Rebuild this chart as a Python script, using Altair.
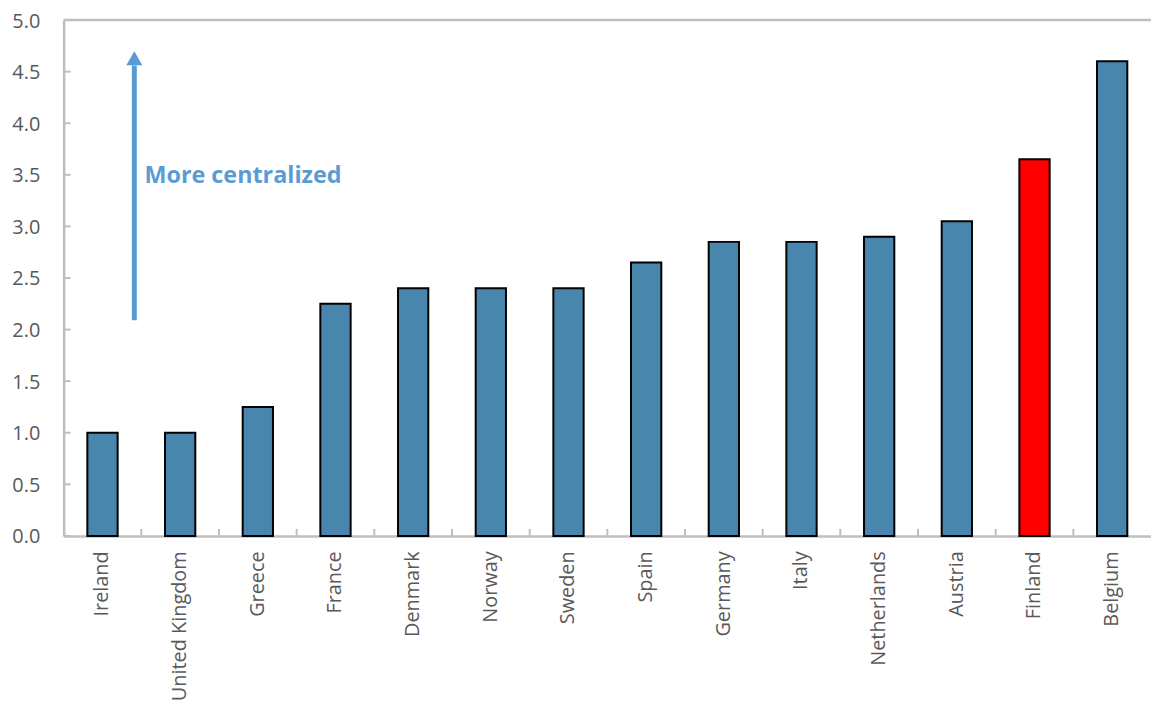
import altair as alt
import pandas as pd

countries = ["Ireland", "United Kingdom", "Greece", "France", "Denmark", "Norway",
             "Sweden", "Spain", "Germany", "Italy", "Netherlands", "Austria",
             "Finland", "Belgium"]
values = [1.0, 1.0, 1.25, 2.25, 2.4, 2.4, 2.4, 2.65, 2.85, 2.85, 2.9, 3.05, 3.65, 4.6]
highlight = ["Finland"]
y_ticks = [0.0, 0.5, 1.0, 1.5, 2.0, 2.5, 3.0, 3.5, 4.0, 4.5, 5.0]

W, H = 1094, 519
FONT = "Open Sans"
BLUE = "#4886AD"
RED = "#FF0000"
ARROW = "#5B9BD5"
GRAY = "#BFBFBF"
PIN = 0.61

df = pd.DataFrame({"country": countries, "value": values,
                   "hl": ["y" if c in highlight else "n" for c in countries]})

xs = alt.Scale(domain=countries, paddingInner=PIN, paddingOuter=PIN / 2)
# same categories, full-step bands (for boundary ticks and annotation placement)
xs_full = alt.Scale(domain=countries, paddingInner=0, paddingOuter=0)
ys = alt.Scale(domain=[0, 5], nice=False)

bars = alt.Chart(df).mark_bar(stroke="black", strokeWidth=2).encode(
    x=alt.X("country:N", scale=xs, sort=countries,
            axis=alt.Axis(title=None, labelAngle=-90, labelAlign="right",
                          labelBaseline="middle", labelFont=FONT, labelFontSize=20,
                          labelColor="#595959", labelPadding=15, ticks=False,
                          domainColor=GRAY, domainWidth=2.5, labelOverlap=False)),
    y=alt.Y("value:Q", scale=ys,
            axis=alt.Axis(title=None, values=y_ticks, format=".1f", labelFont=FONT,
                          labelFontSize=20, labelColor="#595959", labelPadding=24,
                          labelOffset=1, ticks=False, domainColor=GRAY, domainWidth=2.5,
                          grid=False)),
    color=alt.Color("hl:N", scale=alt.Scale(domain=["n", "y"], range=[BLUE, RED]),
                    legend=None),
)

# inside ticks on y axis
ytick_df = pd.DataFrame({"t": y_ticks})
yticks = alt.Chart(ytick_df).mark_rule(color=GRAY, strokeWidth=2).encode(
    y=alt.Y("t:Q", scale=ys), x=alt.value(0), x2=alt.value(7))

# inside ticks on x axis at band boundaries
xt_df = pd.DataFrame({"country": countries[1:]})
xticks = alt.Chart(xt_df).mark_rule(color=GRAY, strokeWidth=2).encode(
    x=alt.X("country:N", scale=xs_full, sort=countries, bandPosition=0, axis=None),
    y=alt.value(H), y2=alt.value(H - 7))

# top border
top = alt.Chart(pd.DataFrame({"a": [0]})).mark_rule(color=GRAY, strokeWidth=2.5).encode(
    x=alt.value(0), x2=alt.value(W), y=alt.value(0))

# arrow annotation
arrow_df = pd.DataFrame({"country": ["Ireland"], "y0": [2.09], "y1": [4.56]})
shaft = alt.Chart(arrow_df).mark_rule(color=ARROW, strokeWidth=5).encode(
    x=alt.X("country:N", scale=xs_full, sort=countries, bandPosition=0.91, axis=None),
    y=alt.Y("y0:Q", scale=ys), y2="y1:Q")
head_df = pd.DataFrame({"country": ["Ireland"], "y": [4.63]})
head = alt.Chart(head_df).mark_point(shape="triangle-up", filled=True, color=ARROW,
                                     size=260, opacity=1).encode(
    x=alt.X("country:N", scale=xs_full, sort=countries, bandPosition=0.91, axis=None),
    y=alt.Y("y:Q", scale=ys))
label_df = pd.DataFrame({"country": ["United Kingdom"], "y": [3.49],
                         "txt": ["More centralized"]})
label = alt.Chart(label_df).mark_text(align="left", baseline="middle", font=FONT,
                                      fontSize=23.5, fontWeight="bold", color=ARROW).encode(
    x=alt.X("country:N", scale=xs_full, sort=countries, bandPosition=0.04, axis=None),
    y=alt.Y("y:Q", scale=ys), text="txt:N")

aux = alt.layer(xticks, shaft, head, label)

chart = alt.layer(bars, yticks, top, aux).resolve_scale(x="independent").properties(
    width=W, height=H,
    autosize=alt.AutoSizeParams(type="none"),
    padding={"left": 56, "top": 10, "right": 0, "bottom": 170},
).configure_view(stroke=None)

chart.save("out.html", embed_options={"renderer": "svg", "actions": False})
